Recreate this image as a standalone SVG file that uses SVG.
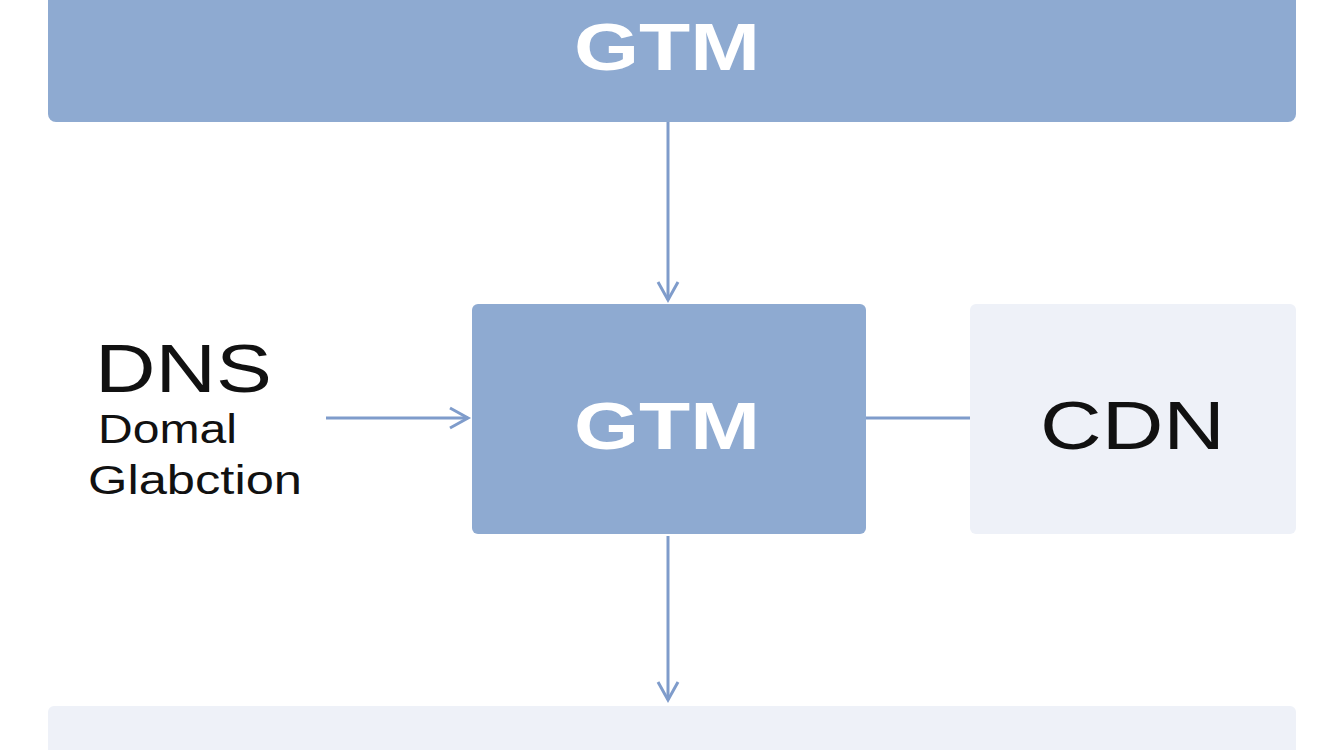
<svg xmlns="http://www.w3.org/2000/svg" width="1344" height="750" viewBox="0 0 1344 750">
<style>
.dark{fill:#8eaad1}
.light{fill:#eef1f8}
.w{fill:#fff;font-family:"Liberation Sans",Arial,sans-serif;font-weight:bold;font-size:66px}
.b{fill:#111;font-family:"Liberation Sans",Arial,sans-serif}
.c{stroke:#7f9ccb;stroke-width:3;fill:none}
</style>
<defs><marker id="a" markerWidth="24" markerHeight="24" refX="20" refY="12" orient="auto" markerUnits="userSpaceOnUse"><path d="M2,2 L20,12 L2,22" fill="none" stroke="#7f9ccb" stroke-width="3"/></marker></defs>
<rect width="1344" height="750" fill="#fff"/>
<g id="top"><rect class="dark" x="48" y="-10" width="1248" height="132" rx="8"/><text class="w" x="574" y="70" textLength="186" lengthAdjust="spacingAndGlyphs">GTM</text></g>
<g id="gtm"><rect class="dark" x="472" y="304" width="394" height="230" rx="6"/><text class="w" x="574" y="449" textLength="186" lengthAdjust="spacingAndGlyphs">GTM</text></g>
<g id="cdn"><rect class="light" x="970" y="304" width="326" height="230" rx="6"/><text class="b" x="1040" y="449" font-size="68" textLength="185" lengthAdjust="spacingAndGlyphs">CDN</text></g>
<g id="dns"><text class="b" x="95" y="392" font-size="68" textLength="177" lengthAdjust="spacingAndGlyphs">DNS</text><text class="b" x="98" y="443" font-size="40" textLength="139" lengthAdjust="spacingAndGlyphs">Domal</text><text class="b" x="88" y="494" font-size="40" textLength="214" lengthAdjust="spacingAndGlyphs">Glabction</text></g>
<g id="bottom"><rect class="light" x="48" y="706" width="1248" height="60" rx="6"/></g>
<g id="connectors">
<line class="c" x1="668" y1="122" x2="668" y2="300" marker-end="url(#a)"/>
<line class="c" x1="326" y1="418" x2="468" y2="418" marker-end="url(#a)"/>
<line class="c" x1="866" y1="418" x2="970" y2="418"/>
<line class="c" x1="668" y1="536" x2="668" y2="700" marker-end="url(#a)"/>
</g>
</svg>
